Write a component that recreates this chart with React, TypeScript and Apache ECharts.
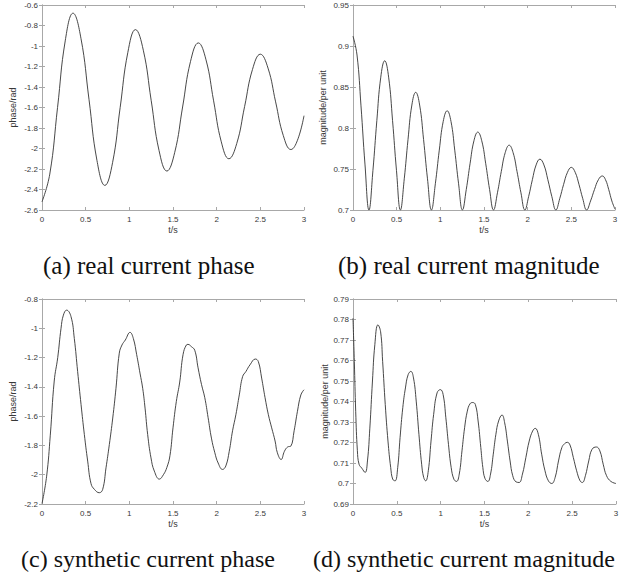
import React, { useEffect, useRef } from "react";
import * as echarts from "echarts";

// t (s), phase (rad) — real current phase
const realPhase: [number, number][] = [
  [0, -2.52], [0.089, -2.25], [0.178, -1.6], [0.266, -0.95], [0.355, -0.68],
  [0.446, -0.925], [0.538, -1.52], [0.629, -2.115], [0.72, -2.36],
  [0.808, -2.138], [0.895, -1.6], [0.983, -1.062], [1.07, -0.84],
  [1.16, -1.041], [1.25, -1.53], [1.34, -2.019], [1.43, -2.22],
  [1.52, -2.037], [1.61, -1.595], [1.7, -1.153], [1.79, -0.97],
  [1.878, -1.135], [1.965, -1.535], [2.053, -1.935], [2.14, -2.1],
  [2.23, -1.951], [2.32, -1.59], [2.41, -1.229], [2.5, -1.08],
  [2.588, -1.216], [2.675, -1.545], [2.763, -1.874], [2.85, -2.01],
  [2.925, -1.92], [3, -1.68],
];

// t (s), magnitude (p.u.) — real current magnitude
const realMag: [number, number][] = [
  [0, 0.912], [0.046, 0.889], [0.0915, 0.827], [0.137, 0.756], [0.183, 0.7],
  [0.228, 0.748], [0.273, 0.809], [0.318, 0.862], [0.363, 0.882],
  [0.408, 0.862], [0.453, 0.809], [0.498, 0.748], [0.543, 0.7],
  [0.587, 0.738], [0.63, 0.786], [0.674, 0.828], [0.718, 0.8435],
  [0.763, 0.828], [0.808, 0.786], [0.853, 0.738], [0.898, 0.7],
  [0.943, 0.732], [0.988, 0.773], [1.033, 0.808], [1.078, 0.821],
  [1.122, 0.808], [1.165, 0.773], [1.209, 0.732], [1.253, 0.7],
  [1.297, 0.725], [1.341, 0.757], [1.385, 0.7845], [1.429, 0.795],
  [1.474, 0.7845], [1.519, 0.757], [1.564, 0.725], [1.609, 0.7],
  [1.654, 0.721], [1.698, 0.747], [1.743, 0.77], [1.788, 0.779],
  [1.833, 0.77], [1.878, 0.747], [1.923, 0.721], [1.968, 0.7],
  [2.011, 0.7164], [2.054, 0.737], [2.097, 0.755], [2.14, 0.762],
  [2.186, 0.755], [2.231, 0.737], [2.277, 0.7164], [2.323, 0.7],
  [2.367, 0.7138], [2.411, 0.731], [2.456, 0.746], [2.5, 0.752],
  [2.544, 0.746], [2.588, 0.731], [2.631, 0.7138], [2.675, 0.7],
  [2.72, 0.711], [2.765, 0.725], [2.81, 0.737], [2.855, 0.7415],
  [2.891, 0.737], [2.928, 0.725], [2.964, 0.711], [3, 0.701],
];

// t (s), phase (rad) — synthetic current phase
const synPhase: [number, number][] = [
  [0, -2.197], [0.053, -2.01], [0.095, -1.73], [0.14, -1.36], [0.18, -1.2],
  [0.218, -1.0], [0.245, -0.91], [0.282, -0.876], [0.332, -0.92],
  [0.37, -1.07], [0.408, -1.295], [0.447, -1.52], [0.485, -1.726],
  [0.523, -1.907], [0.561, -2.06], [0.6, -2.1], [0.656, -2.123],
  [0.695, -2.1], [0.733, -1.953], [0.771, -1.794], [0.81, -1.613],
  [0.847, -1.41], [0.885, -1.17], [0.916, -1.114], [0.954, -1.08],
  [1.008, -1.028], [1.046, -1.07], [1.084, -1.18], [1.122, -1.306],
  [1.153, -1.41], [1.18, -1.545], [1.21, -1.726], [1.248, -1.885],
  [1.286, -1.975], [1.344, -2.03], [1.39, -2.0], [1.43, -1.95],
  [1.465, -1.87], [1.5, -1.68], [1.538, -1.5], [1.577, -1.367],
  [1.615, -1.18], [1.653, -1.114], [1.672, -1.11], [1.71, -1.125],
  [1.749, -1.15], [1.787, -1.27], [1.826, -1.383], [1.864, -1.474],
  [1.902, -1.61], [1.94, -1.75], [1.979, -1.85], [2.017, -1.92],
  [2.067, -1.964], [2.105, -1.94], [2.144, -1.84], [2.182, -1.7],
  [2.22, -1.59], [2.259, -1.455], [2.297, -1.33], [2.335, -1.295],
  [2.381, -1.25], [2.443, -1.21], [2.477, -1.227], [2.515, -1.34],
  [2.554, -1.474], [2.592, -1.59], [2.63, -1.68], [2.669, -1.77],
  [2.695, -1.85], [2.738, -1.896], [2.776, -1.84], [2.814, -1.81],
  [2.849, -1.805], [2.887, -1.7], [2.925, -1.567], [2.964, -1.455],
  [3, -1.42],
];

// t (s), magnitude (p.u.) — synthetic current magnitude
const synMag: [number, number][] = [
  [0, 0.7806], [0.015, 0.7596], [0.031, 0.735], [0.05, 0.716], [0.069, 0.7094],
  [0.1, 0.7075], [0.138, 0.7054], [0.165, 0.711], [0.192, 0.727], [0.222, 0.75],
  [0.249, 0.7677], [0.284, 0.7774], [0.315, 0.774], [0.338, 0.7596],
  [0.368, 0.7385], [0.399, 0.7207], [0.43, 0.7078], [0.453, 0.7021],
  [0.48, 0.7013], [0.51, 0.7078], [0.537, 0.7224], [0.568, 0.737],
  [0.598, 0.7466], [0.629, 0.7531], [0.66, 0.7547], [0.69, 0.7515],
  [0.721, 0.7402], [0.752, 0.724], [0.783, 0.7094], [0.806, 0.703],
  [0.829, 0.7013], [0.859, 0.7062], [0.89, 0.7207], [0.92, 0.7337],
  [0.959, 0.7442], [0.997, 0.7458], [1.028, 0.7434], [1.059, 0.7321],
  [1.089, 0.7191], [1.12, 0.7078], [1.151, 0.7021], [1.181, 0.701],
  [1.212, 0.7046], [1.243, 0.7159], [1.273, 0.7272], [1.304, 0.7353],
  [1.335, 0.7389], [1.366, 0.7395], [1.396, 0.7385], [1.427, 0.7305],
  [1.458, 0.7175], [1.481, 0.7078], [1.505, 0.7025], [1.538, 0.701],
  [1.569, 0.7046], [1.6, 0.7143], [1.63, 0.724], [1.661, 0.7305],
  [1.7, 0.7334], [1.73, 0.7296], [1.761, 0.7207], [1.792, 0.711],
  [1.822, 0.7038], [1.86, 0.7008], [1.895, 0.7005], [1.933, 0.7046],
  [1.972, 0.7127], [2.01, 0.7207], [2.049, 0.7256], [2.079, 0.7269],
  [2.114, 0.724], [2.152, 0.7143], [2.19, 0.7062], [2.229, 0.7013],
  [2.267, 0.7], [2.306, 0.703], [2.344, 0.711], [2.382, 0.7175],
  [2.413, 0.7194], [2.444, 0.7201], [2.475, 0.7188], [2.513, 0.7127],
  [2.551, 0.7062], [2.59, 0.7013], [2.616, 0.7005], [2.651, 0.7038],
  [2.689, 0.711], [2.727, 0.7167], [2.777, 0.7178], [2.816, 0.7159],
  [2.854, 0.7094], [2.892, 0.7038], [2.942, 0.701], [3, 0.7],
];

const captions = [
  "(a) real current phase",
  "(b) real current magnitude",
  "(c) synthetic current phase",
  "(d) synthetic current magnitude",
];
const yNames = ["phase/rad", "magnitude/per unit", "phase/rad", "magnitude/per unit"];
const yRanges: [number, number, number][] = [
  [-2.6, -0.6, 0.2],
  [0.7, 0.95, 0.05],
  [-2.2, -0.8, 0.2],
  [0.69, 0.79, 0.01],
];
const xRange: [number, number, number] = [0, 3, 0.5];
const xName = "t/s";

export default function App() {
  const ref = useRef<HTMLDivElement>(null);
  useEffect(() => {
    document.body.style.margin = "0";
    if (!ref.current) return;
    const chart = echarts.init(ref.current, undefined, { renderer: "svg" });
    const frame = "#a8a8a8";
    const txt = "#383838";
    const sans = "Liberation Sans, Arial, sans-serif";
    const grids = [
      { left: 42, top: 5, width: 262, height: 205 },
      { left: 353, top: 5, width: 262, height: 205 },
      { left: 42, top: 299, width: 262, height: 205 },
      { left: 353, top: 299, width: 263, height: 205 },
    ];
    const yNameGaps = [25, 26, 25, 22];
    const capPos = [
      [43, 253, 25],
      [338, 253, 25],
      [21, 547, 24],
      [313, 547, 24],
    ];
    const seriesData = [realPhase, realMag, synPhase, synMag];
    const xAxis: any[] = [];
    const yAxis: any[] = [];
    const series: any[] = [];
    grids.forEach((g, i) => {
      const [ymin, ymax, yint] = yRanges[i];
      const common = {
        type: "value",
        gridIndex: i,
        axisLine: { show: true, lineStyle: { color: frame, width: 1 } },
        axisTick: { show: true, inside: true, length: 3, lineStyle: { color: frame, width: 1 } },
        splitLine: { show: false },
      };
      xAxis.push({
        ...common,
        position: "bottom",
        min: xRange[0],
        max: xRange[1],
        interval: xRange[2],
        axisLabel: { fontSize: 8, color: txt, margin: 5, fontFamily: sans },
        name: xName,
        nameLocation: "middle",
        nameGap: 15,
        nameTextStyle: { fontSize: 9, color: txt, fontFamily: sans },
      });
      xAxis.push({
        ...common,
        position: "top",
        min: xRange[0],
        max: xRange[1],
        interval: xRange[2],
        axisLabel: { show: false },
      });
      yAxis.push({
        ...common,
        position: "left",
        min: ymin,
        max: ymax,
        interval: yint,
        axisLabel: { fontSize: 8, color: txt, margin: 4, fontFamily: sans },
        name: yNames[i],
        nameLocation: "middle",
        nameGap: yNameGaps[i],
        nameTextStyle: { fontSize: 9, color: txt, fontFamily: sans },
      });
      yAxis.push({
        ...common,
        position: "right",
        min: ymin,
        max: ymax,
        interval: yint,
        axisLabel: { show: false },
      });
      series.push({
        type: "line",
        xAxisIndex: 2 * i,
        yAxisIndex: 2 * i,
        data: seriesData[i],
        showSymbol: false,
        symbol: "none",
        smooth: 0.45,
        lineStyle: { color: "#333333", width: 0.9 },
        silent: true,
      });
    });
    chart.setOption({
      animation: false,
      backgroundColor: "#ffffff",
      grid: grids.map((g) => ({ ...g, show: false })),
      xAxis,
      yAxis,
      series,
      graphic: captions.map((c, i) => ({
        type: "text",
        left: capPos[i][0],
        top: capPos[i][1],
        style: {
          text: c,
          fontSize: capPos[i][2],
          fontFamily: "Liberation Serif, Times New Roman, serif",
          fill: "#111",
        },
      })),
    });
    return () => chart.dispose();
  }, []);
  return <div ref={ref} style={{ width: 628, height: 578 }} />;
}
